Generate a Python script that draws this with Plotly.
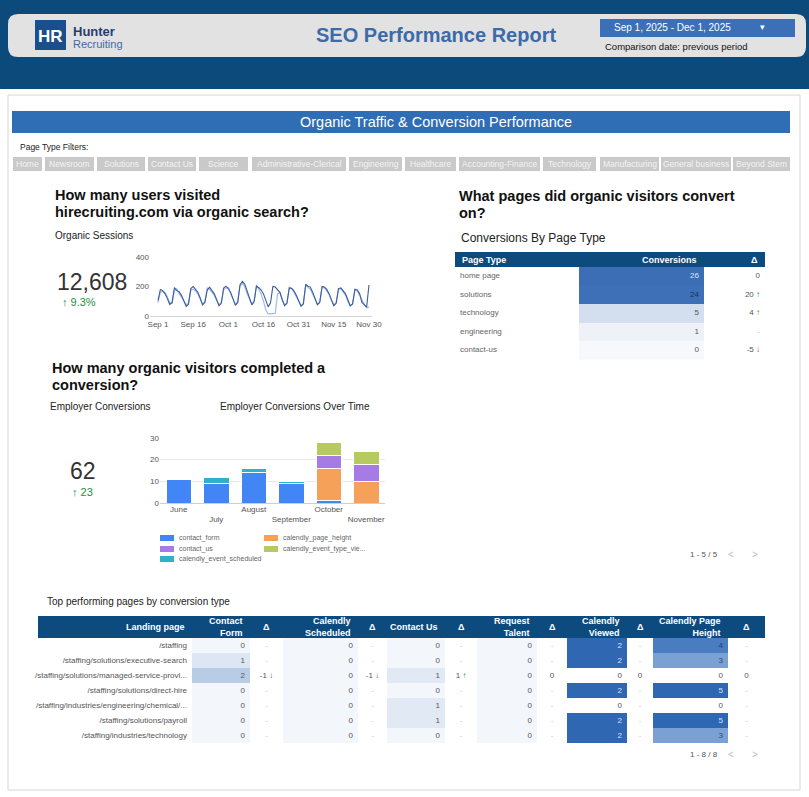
import plotly.graph_objects as go
import pandas as pd

W, H = 809, 797
FONT = "Liberation Sans, Arial, sans-serif"
NAVY = "#0d4b7e"

# ---------------- data ----------------
filters = ["Home", "Newsroom", "Solutions", "Contact Us", "Science", "Administrative-Clerical",
           "Engineering", "Healthcare", "Accounting-Finance", "Technology", "Manufacturing",
           "General business", "Beyond Stem"]
filter_edges = [(13, 42), (45, 94), (97, 145), (148, 196), (199, 248), (252, 346), (349, 402),
                (405, 456), (459, 540), (543, 596), (600, 659), (661, 731), (733, 790)]

session_dates = pd.date_range("2025-09-01", "2025-11-30", freq="D")
sessions_current = [
    105, 180, 172, 150, 118, 78, 92,
    192, 172, 165, 140, 108, 66, 80,
    186, 200, 182, 160, 122, 75, 92,
    176, 196, 172, 150, 112, 70, 86,
    190, 202, 186, 160, 112, 72, 92,
    212, 235, 216, 170, 120, 76, 96,
    202, 192, 176, 150, 102, 62, 90,
    200, 196, 180, 160, 110, 70, 86,
    190, 186, 170, 140, 106, 66, 82,
    215, 202, 196, 160, 116, 76, 92,
    200, 196, 180, 150, 102, 70, 86,
    186, 190, 172, 150, 110, 70, 82,
    182, 176, 152, 92, 72, 60, 210]
sessions_previous = [
    90, 160, 168, 160, 130, 90, 85,
    170, 185, 150, 130, 100, 78, 86,
    175, 182, 170, 150, 118, 80, 96,
    190, 180, 160, 140, 105, 78, 90,
    178, 190, 192, 150, 115, 80, 98,
    205, 220, 200, 150, 110, 82, 100,
    210, 180, 150, 100, 40, 15, 15,
    15, 18, 150, 160, 112, 75, 88,
    195, 190, 160, 130, 100, 72, 84,
    205, 195, 180, 150, 110, 80, 95,
    195, 190, 170, 148, 105, 75, 92,
    180, 185, 165, 140, 100, 68, 80,
    175, 170, 140, 100, 80, 55, 60]
session_ticks = ["2025-09-01", "2025-09-16", "2025-10-01", "2025-10-16", "2025-10-31", "2025-11-15", "2025-11-30"]
session_ticktext = ["Sep 1", "Sep 16", "Oct 1", "Oct 16", "Oct 31", "Nov 15", "Nov 30"]

months = ["June", "July", "August", "September", "October", "November"]
month_ticktext = ["June", "<br>July", "August", "<br>September", "October", "<br>November"]
conv_series = {
    "contact_form": [11, 9, 14, 9, 1, 0],
    "calendly_page_height": [0, 0, 0, 0, 15, 10],
    "contact_us": [0, 0, 0, 0, 6, 8],
    "calendly_event_type_view": [0, 0, 0, 0, 6, 6],
    "calendly_event_scheduled": [0, 3, 2, 1, 0, 0],
}
conv_colors = {
    "contact_form": "#4285f4",
    "calendly_page_height": "#f6a15a",
    "contact_us": "#a67be3",
    "calendly_event_type_view": "#b6ca5e",
    "calendly_event_scheduled": "#2cb3c7",
}

page_types = ["home page", "solutions", "technology", "engineering", "contact-us"]
page_conversions = [26, 24, 5, 1, 0]
page_delta = [0, 20, 4, None, -5]

landing_pages = ["/staffing", "/staffing/solutions/executive-search",
                 "/staffing/solutions/managed-service-provi...", "/staffing/solutions/direct-hire",
                 "/staffing/industries/engineering/chemical/...", "/staffing/solutions/payroll",
                 "/staffing/industries/technology"]
contact_form = [0, 1, 2, 0, 0, 0, 0]
contact_form_d = [None, None, -1, None, None, None, None]
calendly_scheduled = [0, 0, 0, 0, 0, 0, 0]
calendly_scheduled_d = [None, None, -1, None, None, None, None]
contact_us = [0, 0, 1, 0, 1, 1, 0]
contact_us_d = [None, None, 1, None, None, None, None]
request_talent = [0, 0, 0, 0, 0, 0, 0]
request_talent_d = [None, None, 0, None, None, None, None]
calendly_viewed = [2, 2, 0, 2, 0, 2, 2]
calendly_viewed_d = [None, None, 0, None, None, None, None]
calendly_page_height = [4, 3, 0, 5, 0, 5, 3]
calendly_page_height_d = [None, None, 0, None, None, None, None]

# ---------------- helpers ----------------
def X(x): return x / W
def Y(y): return 1 - y / H

shapes, ann = [], []
layout_axes = {}

def rect(x0, y0, x1, y1, fill, line=None, lw=0):
    shapes.append(dict(type="rect", xref="paper", yref="paper", x0=X(x0), x1=X(x1),
                       y0=Y(y1), y1=Y(y0), fillcolor=fill,
                       line=dict(color=line or fill, width=lw), layer="below"))

def rrect(x0, y0, x1, y1, r, fill):
    rx, ry = r / W, r / H
    a, b, c, d = X(x0), X(x1), Y(y0), Y(y1)
    path = (f"M{a+rx},{c} L{b-rx},{c} Q{b},{c} {b},{c-ry} L{b},{d+ry} Q{b},{d} {b-rx},{d} "
            f"L{a+rx},{d} Q{a},{d} {a},{d+ry} L{a},{c-ry} Q{a},{c} {a+rx},{c} Z")
    shapes.append(dict(type="path", xref="paper", yref="paper", path=path, fillcolor=fill,
                       line=dict(width=0), layer="below"))

def txt(x, y, s, size=10, color="#222", xa="left", ya="middle"):
    ann.append(dict(x=X(x), y=Y(y), xref="paper", yref="paper", text=s, showarrow=False,
                    xanchor=xa, yanchor=ya, font=dict(size=size, color=color, family=FONT)))

UP = "<span style='color:#1e8e3e'>↑</span>"
DN = "<span style='color:#d93025'>↓</span>"

def dfmt(v):
    if v is None:
        return "<span style='color:#c8c8c8'>-</span>"
    if v > 0:
        return f"{v} {UP}"
    if v < 0:
        return f"{v} {DN}"
    return f"{v}"

fig = go.Figure()

def table(n_ax, x0, top, header_h, row_h, widths, header_labels, header_align,
          cols, col_align, fills, fcolors, pad=5):
    nrows = len(cols[0])
    edges = [0]
    for w in widths:
        edges.append(edges[-1] + w)
    tot = edges[-1]
    xa, ya = f"x{n_ax}", f"y{n_ax}"
    layout_axes[f"xaxis{n_ax}"] = dict(domain=[X(x0), X(x0 + tot)], range=[0, tot], anchor=ya,
                                       visible=False, fixedrange=True, automargin=False)
    layout_axes[f"yaxis{n_ax}"] = dict(domain=[Y(top + header_h + nrows * row_h), Y(top + header_h)],
                                       range=[nrows - 0.5, -0.5], anchor=xa, visible=False,
                                       fixedrange=True, automargin=False)
    palette = []
    for col in fills:
        for c in col:
            if c not in palette:
                palette.append(c)
    N = len(palette)
    cs = []
    for i, c in enumerate(palette):
        cs.append([i / N, c])
        cs.append([(i + 1) / N, c])
    z = [[palette.index(fills[c][r]) + 0.5 for c in range(len(widths))] for r in range(nrows)]
    fig.add_trace(go.Heatmap(x=edges, y=list(range(nrows)), z=z, zmin=0, zmax=N, colorscale=cs,
                             showscale=False, hoverinfo="skip", xaxis=xa, yaxis=ya))
    def pos(c, al):
        if al == "left":
            return edges[c] + pad, "middle right", "left"
        if al == "right":
            return edges[c + 1] - pad, "middle left", "right"
        return (edges[c] + edges[c + 1]) / 2, "middle center", "center"
    for c in range(len(widths)):
        px_, tp, _ = pos(c, col_align[c])
        fig.add_trace(go.Scatter(x=[px_] * nrows, y=list(range(nrows)), mode="text",
                                 text=cols[c], textposition=tp, cliponaxis=False,
                                 textfont=dict(size=8, family=FONT, color=fcolors[c]),
                                 hoverinfo="skip", xaxis=xa, yaxis=ya))
    rect(x0, top, x0 + tot, top + header_h, NAVY)
    for c, lab in enumerate(header_labels):
        px_, _, anchor = pos(c, header_align[c])
        ann.append(dict(x=px_, y=Y(top + header_h / 2), xref=xa, yref="paper", text=lab,
                        showarrow=False, xanchor=anchor, yanchor="middle", align=anchor,
                        font=dict(size=9, color="white", family=FONT)))

# ---------------- page background ----------------
rect(0, 0, W, 89, "#0b4a7b")
rrect(8, 14, 806, 57, 10, "#e2e2e2")
rect(8, 95, 800, 790, "white", line="#d6d6d6", lw=1)
rect(35, 20, 66, 50, "#1a4f8c")
txt(50.5, 36, "<b>HR</b>", 17, "white", xa="center")
txt(71, 31, "<b>Hunter</b>", 13, "#1f3f73")
txt(71, 44, "Recruiting", 11, "#3d6aa6")
txt(436, 35, "<b>SEO Performance Report</b>", 20, "#3d6aa8", xa="center")
rect(600, 19, 795, 37, "#3b6fb7")
txt(672, 27.5, "Sep 1, 2025 - Dec 1, 2025", 10, "white", xa="center")
txt(762, 27.5, "▾", 9, "white", xa="center")
txt(603, 46.5, "Comparison date: previous period", 9.5, "#111")

rect(12, 111, 790, 133, "#2f6db5")
txt(436, 122.5, "Organic Traffic & Conversion Performance", 14.5, "white", xa="center")
txt(18, 147, "Page Type Filters:", 8.5, "#222")
for name, (a, b) in zip(filters, filter_edges):
    rect(a, 157, b, 171, "#c9c9c9")
    txt((a + b) / 2, 164, name, 8.5, "#f4f4f4", xa="center")

txt(53, 195, "<b>How many users visited</b>", 14.5, "#111")
txt(53, 212, "<b>hirecruiting.com via organic search?</b>", 14.5, "#111")
txt(53, 236, "Organic Sessions", 10, "#222")
txt(92, 282, "12,608", 23, "#333", xa="center")
txt(60, 302, "↑ 9.3%", 11, "#1e8e3e")

txt(457, 196, "<b>What pages did organic visitors convert</b>", 14.5, "#111")
txt(457, 213, "<b>on?</b>", 14.5, "#111")
txt(459, 238, "Conversions By Page Type", 12, "#222")

txt(50, 368, "<b>How many organic visitors completed a</b>", 14.5, "#111")
txt(50, 385, "<b>conversion?</b>", 14.5, "#111")
txt(48, 406, "Employer Conversions", 10, "#222")
txt(218, 406, "Employer Conversions Over Time", 10, "#222")
txt(83, 471, "62", 23, "#333", xa="center")
txt(70, 492, "↑ 23", 11, "#1e8e3e")

legend_items = [("contact_form", "contact_form", 160, 538), ("contact_us", "contact_us", 160, 549),
                ("calendly_event_scheduled", "calendly_event_scheduled", 160, 559),
                ("calendly_page_height", "calendly_page_height", 264, 538),
                ("calendly_event_type_view", "calendly_event_type_vie...", 264, 549)]
for key, label, lx, ly in legend_items:
    rect(lx, ly - 3, lx + 14, ly + 3, conv_colors[key])
    txt(lx + 17, ly, label, 7, "#666")

txt(688, 554, "1 - 5 / 5", 8, "#555")
txt(731, 554, "<", 10, "#c0c0c0", xa="center")
txt(755, 554, ">", 10, "#c0c0c0", xa="center")

txt(45, 601, "Top performing pages by conversion type", 10, "#222")
txt(688, 754, "1 - 8 / 8", 8, "#555")
txt(731, 754, "<", 10, "#c0c0c0", xa="center")
txt(755, 754, ">", 10, "#c0c0c0", xa="center")

# ---------------- charts ----------------
fig.add_trace(go.Scatter(x=session_dates, y=sessions_previous, mode="lines",
                         line=dict(color="#9fbbea", width=1.2), xaxis="x", yaxis="y",
                         hoverinfo="skip"))
fig.add_trace(go.Scatter(x=session_dates, y=sessions_current, mode="lines",
                         line=dict(color="#3d5c99", width=1.1), xaxis="x", yaxis="y",
                         hoverinfo="skip"))

for key, vals in conv_series.items():
    fig.add_trace(go.Bar(x=months, y=vals, name=key, marker=dict(color=conv_colors[key],
                         line=dict(color="white", width=1)), xaxis="x2", yaxis="y2"))

# ---------------- small table ----------------
def conv_fill(v):
    return {26: "#3c6eb6", 24: "#3e70b8", 5: "#d3deee", 1: "#eef2f8"}.get(v, "#f6f8fb")

def conv_font(v):
    return {26: "#d4e3ff", 24: "#1d2f52"}.get(v, "#555")

n = len(page_types)
table(3, 455, 252, 15, 18.5, [124, 125, 61],
      ["<b>Page Type</b>", "<b>Conversions</b>", "<b>Δ</b>"], ["left", "right", "right"],
      [page_types, [str(v) for v in page_conversions], [dfmt(v) for v in page_delta]],
      ["left", "right", "right"],
      [["white"] * n, [conv_fill(v) for v in page_conversions], ["white"] * n],
      [["#666"] * n, [conv_font(v) for v in page_conversions], ["#555"] * n])

# ---------------- big table ----------------
LIGHT0 = "#f3f6fb"
def heat_light(v):
    return {0: LIGHT0, 1: "#dde6f3", 2: "#b9cce6"}[v]

def heat_dark(v):
    return {0: "white", 2: "#2f67b3", 3: "#7ba0d3", 4: "#4a7cc0", 5: "#2f67b3"}[v]

def heat_font(v):
    return {2: "#d4e3ff", 5: "#d4e3ff", 4: "#23426f", 3: "#2a4a7a"}.get(v, "#555")

m = len(landing_pages)
wcol = ["white"] * m
gray = ["#555"] * m
big_fill = [wcol,
            [heat_light(v) for v in contact_form], wcol,
            [LIGHT0] * m, wcol,
            [LIGHT0 if v == 0 else "#e1e9f4" for v in contact_us], wcol,
            [LIGHT0] * m, wcol,
            [heat_dark(v) for v in calendly_viewed], wcol,
            [heat_dark(v) for v in calendly_page_height], wcol]
big_font = [gray] * 9 + [[heat_font(v) for v in calendly_viewed], gray,
                         [heat_font(v) for v in calendly_page_height], gray]
headers = ["<b>Landing page</b>", "<b>Contact<br>Form</b>", "<b>Δ</b>", "<b>Calendly<br>Scheduled</b>",
           "<b>Δ</b>", "<b>Contact Us</b>", "<b>Δ</b>", "<b>Request<br>Talent</b>", "<b>Δ</b>",
           "<b>Calendly<br>Viewed</b>", "<b>Δ</b>", "<b>Calendly Page<br>Height</b>", "<b>Δ</b>"]
big_cols = [landing_pages,
            [str(v) for v in contact_form], [dfmt(v) for v in contact_form_d],
            [str(v) for v in calendly_scheduled], [dfmt(v) for v in calendly_scheduled_d],
            [str(v) for v in contact_us], [dfmt(v) for v in contact_us_d],
            [str(v) for v in request_talent], [dfmt(v) for v in request_talent_d],
            [str(v) for v in calendly_viewed], [dfmt(v) for v in calendly_viewed_d],
            [str(v) for v in calendly_page_height], [dfmt(v) for v in calendly_page_height_d]]
aligns = ["right", "right", "center", "right", "center", "right", "center",
          "right", "center", "right", "center", "right", "center"]
table(4, 38, 616, 22, 15, [154, 58, 33, 75, 29, 58, 32, 60, 30, 60, 26, 75, 37],
      headers, aligns, big_cols, aligns, big_fill, big_font)

fig.update_layout(
    width=W, height=H, margin=dict(l=0, r=0, t=0, b=0, pad=0, autoexpand=False),
    paper_bgcolor="white", plot_bgcolor="rgba(0,0,0,0)",
    showlegend=False, barmode="stack", bargap=0.32,
    font=dict(family=FONT),
    shapes=shapes, annotations=ann,
    xaxis=dict(domain=[X(150), X(372)], anchor="y", type="date",
               range=["2025-08-28 14:00", "2025-12-01 07:00"],
               tickvals=session_ticks, ticktext=session_ticktext,
               tickfont=dict(size=8, color="#555"), showgrid=False, showline=True,
               linecolor="#d5d5d5", ticks="", fixedrange=True, automargin=False),
    yaxis=dict(domain=[Y(316), Y(257)], anchor="x", range=[0, 400],
               tickvals=[0, 200, 400], tickfont=dict(size=8, color="#555"),
               showgrid=False, zeroline=False, ticks="", fixedrange=True, automargin=False),
    xaxis2=dict(domain=[X(160), X(385)], anchor="y2", tickvals=months, ticktext=month_ticktext,
                tickfont=dict(size=8, color="#555"), showgrid=False, showline=False, ticks="",
                fixedrange=True, automargin=False),
    yaxis2=dict(domain=[Y(503), Y(438)], anchor="x2", range=[0, 30], dtick=10,
                tickfont=dict(size=8, color="#555"), gridcolor="#e8e8e8",
                zeroline=True, zerolinecolor="#cfcfcf", zerolinewidth=1, ticks="",
                fixedrange=True, automargin=False),
    **layout_axes,
)

fig.write_html("out.html", config={"displayModeBar": False},
               post_script="document.body.style.margin='0';document.body.style.overflow='hidden';")
